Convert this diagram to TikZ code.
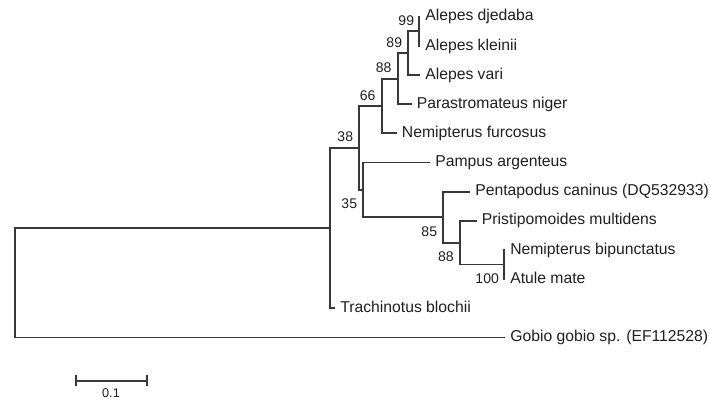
\documentclass[tikz,border=0pt]{standalone}
\usepackage{fontspec}
\setmainfont{Liberation Sans}
\begin{document}
\begin{tikzpicture}[x=0.75pt,y=-0.75pt,
  branch/.style={line width=1.3pt,color=black!78},
  taxon/.style={anchor=base west,inner sep=0pt,xshift=3.75pt,yshift=-3.1pt,
    font=\fontsize{11.8}{13}\selectfont,text=black!88},
  bootup/.style={anchor=base east,inner sep=0pt,xshift=-4.5pt,yshift=4.5pt,
    font=\fontsize{10.5}{12}\selectfont,text=black!88},
  bootdown/.style={anchor=base east,inner sep=0pt,xshift=-4.5pt,yshift=-14.3pt,
    font=\fontsize{10.5}{12}\selectfont,text=black!88}]
\useasboundingbox (0,0) rectangle (709,401);

% branch tips
\coordinate (t1)  at (420,16.7);
\coordinate (t2)  at (420,45.9);
\coordinate (t3)  at (420,75.0);
\coordinate (t4)  at (411.7,104.2);
\coordinate (t5)  at (396.7,133.3);
\coordinate (t6)  at (430,162.5);
\coordinate (t7)  at (470,191.7);
\coordinate (t8)  at (476.7,220.8);
\coordinate (t9)  at (505,250.0);
\coordinate (t10) at (505,279.1);
\coordinate (t11) at (335,308.3);
\coordinate (t12) at (505,337.5);

% internal nodes
\coordinate (n99)  at (418.7,31.3);
\coordinate (n89)  at (408.3,53.15);
\coordinate (n88a) at (397.7,78.7);
\coordinate (n66)  at (381.7,106.0);
\coordinate (n100) at (504.3,264.55);
\coordinate (n88b) at (460,242.7);
\coordinate (n85)  at (443.3,217.2);
\coordinate (n35)  at (363.3,189.85);
\coordinate (n38)  at (359.3,147.9);
\coordinate (nT)   at (330,228.1);
\coordinate (root) at (15,282.8);

% branches
\draw[branch] (n99) |- (t1);
\draw[branch] (n99) |- (t2);
\draw[branch] (n89) |- (n99);
\draw[branch] (n89) |- (t3);
\draw[branch] (n88a) |- (n89);
\draw[branch] (n88a) |- (t4);
\draw[branch] (n66) |- (n88a);
\draw[branch] (n66) |- (t5);
\draw[branch] (n100) |- (t9);
\draw[branch] (n100) |- (t10);
\draw[branch] (n88b) |- (t8);
\draw[branch] (n88b) |- (n100);
\draw[branch] (n85) |- (t7);
\draw[branch] (n85) |- (n88b);
\draw[branch] (n35) |- (t6);
\draw[branch] (n35) |- (n85);
\draw[branch] (n38) |- (n66);
\draw[branch] (n38) |- (n35);
\draw[branch] (nT) |- (n38);
\draw[branch] (nT) |- (t11);
\draw[branch] (root) |- (nT);
\draw[branch] (root) |- (t12);

% taxon labels
\node[taxon] (L1)  at (t1)  {Alepes djedaba};
\node[taxon] (L2)  at (t2)  {Alepes kleinii};
\node[taxon] (L3)  at (t3)  {Alepes vari};
\node[taxon] (L4)  at (t4)  {Parastromateus niger};
\node[taxon] (L5)  at (t5)  {Nemipterus furcosus};
\node[taxon] (L6)  at (t6)  {Pampus argenteus};
\node[taxon] (L7)  at (t7)  {Pentapodus caninus (DQ532933)};
\node[taxon] (L8)  at (t8)  {Pristipomoides multidens};
\node[taxon] (L9)  at (t9)  {Nemipterus bipunctatus};
\node[taxon] (L10) at (t10) {Atule mate};
\node[taxon] (L11) at (t11) {Trachinotus blochii};
\node[taxon] (L12) at (t12) {Gobio gobio sp. (EF112528)};

% bootstrap values
\node[bootup,xshift=1.2pt] (b99) at (n99) {99};
\node[bootup] (b89)  at (n89)  {89};
\node[bootup] (b88a) at (n88a) {88};
\node[bootup] (b66)  at (n66)  {66};
\node[bootup] (b38)  at (n38)  {38};
\node[bootdown] (b35)  at (n35)  {35};
\node[bootdown] (b85)  at (n85)  {85};
\node[bootdown] (b88b) at (n88b) {88};
\node[bootdown,xshift=0.6pt] (b100) at (n100) {100};

% scale bar
\coordinate (s1) at (75.7,380.7);
\coordinate (s2) at (147.3,380.7);
\draw[branch] (s1) -- (s2);
\draw[branch] ([yshift=4pt]s1) -- ([yshift=-4pt]s1);
\draw[branch] ([yshift=4pt]s2) -- ([yshift=-4pt]s2);
\node[anchor=base,inner sep=0pt,font=\fontsize{9.5}{11}\selectfont,text=black!88]
  (sl) at (111,397.3) {0.1};
\end{tikzpicture}
\end{document}
